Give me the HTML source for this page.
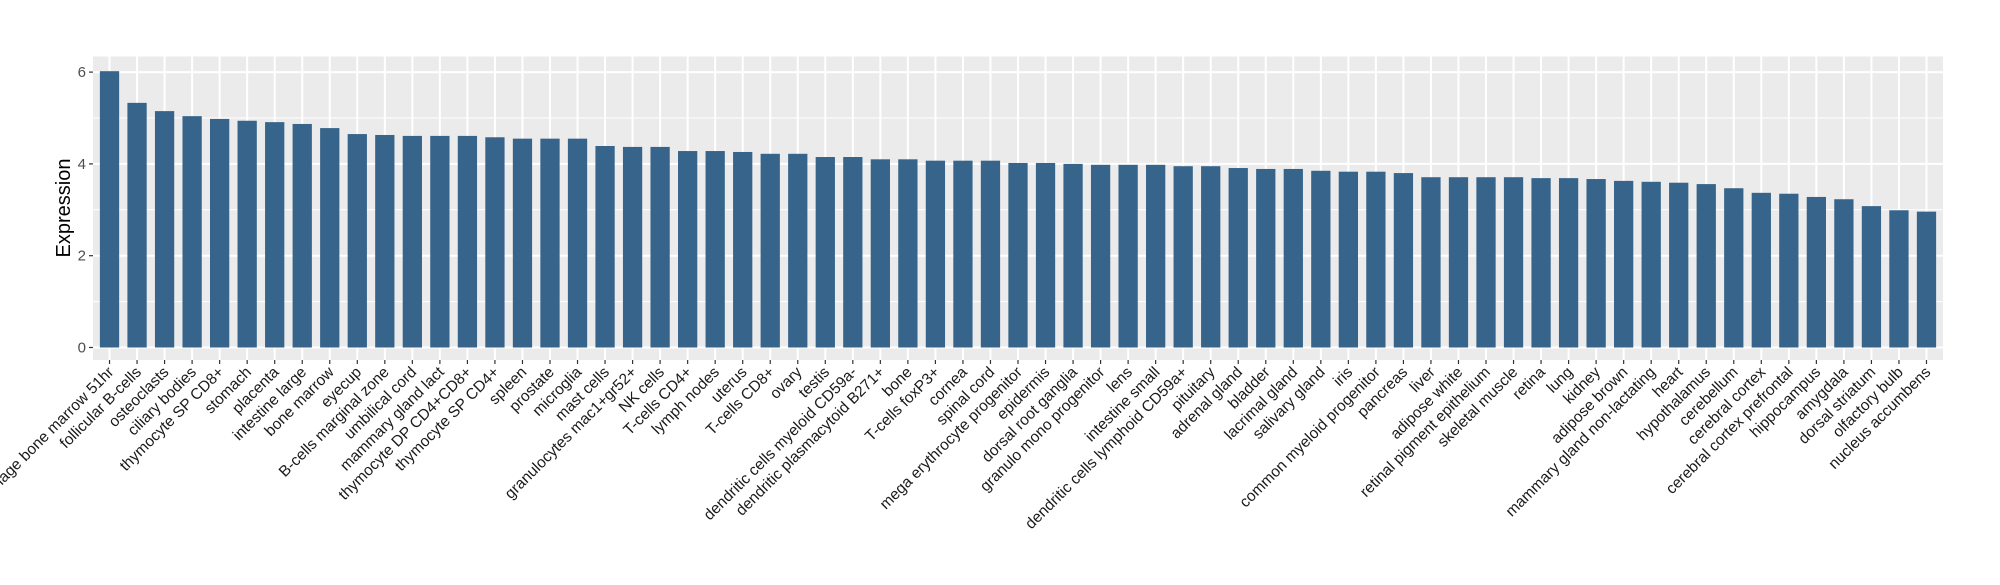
<!DOCTYPE html>
<html><head><meta charset="utf-8"><style>
body{margin:0;background:#fff;}
svg text{font-family:"Liberation Sans",Arial,sans-serif;}
</style></head><body>
<svg id="chart" width="2000" height="580" xmlns="http://www.w3.org/2000/svg">
<rect width="2000" height="580" fill="#fff"/>
<g id="plot"></g>
</svg>
<script>
const categories=["macrophage bone marrow 51hr","follicular B-cells","osteoclasts","ciliary bodies","thymocyte SP CD8+","stomach","placenta","intestine large","bone marrow","eyecup","B-cells marginal zone","umbilical cord","mammary gland  lact","thymocyte DP CD4+CD8+","thymocyte SP CD4+","spleen","prostate","microglia","mast cells","granulocytes mac1+gr52+","NK cells","T-cells CD4+","lymph nodes","uterus","T-cells CD8+","ovary","testis","dendritic cells myeloid CD59a-","dendritic plasmacytoid B271+","bone","T-cells foxP3+","cornea","spinal cord","mega erythrocyte progenitor","epidermis","dorsal root ganglia","granulo mono progenitor","lens","intestine small","dendritic cells lymphoid CD59a+","pituitary","adrenal gland","bladder","lacrimal gland","salivary gland","iris","common myeloid progenitor","pancreas","liver","adipose white","retinal pigment epithelium","skeletal muscle","retina","lung","kidney","adipose brown","mammary gland non-lactating","heart","hypothalamus","cerebellum","cerebral cortex","cerebral cortex prefrontal","hippocampus","amygdala","dorsal striatum","olfactory bulb","nucleus accumbens"];
const values=[6.02,5.33,5.15,5.04,4.98,4.94,4.91,4.87,4.78,4.65,4.63,4.61,4.61,4.61,4.58,4.55,4.55,4.55,4.39,4.37,4.37,4.28,4.28,4.26,4.22,4.22,4.15,4.15,4.10,4.10,4.07,4.07,4.07,4.02,4.02,4.00,3.98,3.98,3.98,3.95,3.95,3.91,3.89,3.89,3.85,3.83,3.83,3.80,3.71,3.71,3.71,3.71,3.69,3.69,3.67,3.63,3.61,3.59,3.56,3.47,3.37,3.35,3.28,3.23,3.08,2.99,2.96];
const yTicks=[0,2,4,6];
const yMinor=[1,3,5];

const NS="http://www.w3.org/2000/svg";
const g=document.getElementById('plot');
const L=93,R=1943,T=56.5,B=360;
const y0=347.5,unit=45.9;
const n=categories.length;
const step=(R-L)/(n-1+1.2);
const xs=i=>L+step*(0.6+i);
const ys=v=>y0-v*unit;
function mk(tag,attrs,parent){const e=document.createElementNS(NS,tag);for(const k in attrs)e.setAttribute(k,attrs[k]);(parent||g).appendChild(e);return e;}
const bg=mk('rect',{x:L,y:T,width:R-L,height:B-T,fill:'#EBEBEB'});


yMinor.forEach(v=>{const l=mk('line',{x1:L,x2:R,y1:ys(v),y2:ys(v),stroke:'#fff','stroke-width':1});

});
yTicks.forEach(v=>{const l=mk('line',{x1:L,x2:R,y1:ys(v),y2:ys(v),stroke:'#fff','stroke-width':2});


const t=mk('line',{x1:L-4,x2:L,y1:ys(v),y2:ys(v),stroke:'#333','stroke-width':1.2});


const tx=mk('text',{x:L-7,y:ys(v)+5,'text-anchor':'end','font-size':15,fill:'#4d4d4d'});
tx.textContent=v;

});
categories.forEach((c,i)=>{const x=xs(i);
const vl=mk('line',{x1:x,x2:x,y1:T,y2:B,stroke:'#fff','stroke-width':2});

});
const bw=step*0.7;
categories.forEach((c,i)=>{const x=xs(i);
const r=mk('rect',{x:x-bw/2,y:ys(values[i]),width:bw,height:ys(0)-ys(values[i]),fill:'#36648B'});


const t=mk('line',{x1:x,x2:x,y1:B,y2:B+4,stroke:'#333','stroke-width':1.2});


const tx=mk('text',{x:x+5,y:B+13,'text-anchor':'end','font-size':15.5,fill:'#1a1a1a',transform:`rotate(-45 ${x+5} ${B+13})`});
tx.textContent=c;

});
const yt=mk('text',{x:70,y:208,'text-anchor':'middle','font-size':20,fill:'#000',transform:'rotate(-90 70 208)'});
yt.textContent='Expression';


</script>
</body></html>
